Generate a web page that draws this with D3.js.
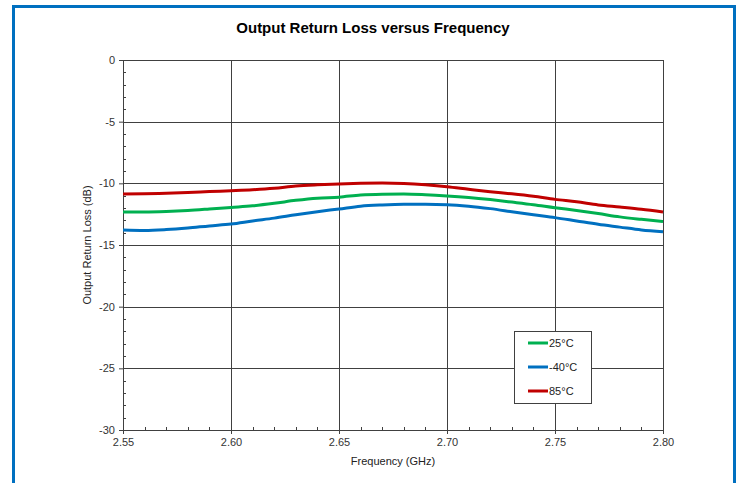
<!DOCTYPE html>
<html><head><meta charset="utf-8">
<script src="https://cdn.jsdelivr.net/npm/d3@7"></script>
<style>body{margin:0;background:#fff}svg{display:block}text{font-family:"Liberation Sans",Arial,sans-serif}</style>
</head><body><svg id="c" width="742" height="483"></svg>
<script>
const freqs = [2.55,2.56,2.57,2.58,2.59,2.60,2.61,2.62,2.63,2.64,2.65,2.66,2.67,2.68,2.69,2.70,2.71,2.72,2.73,2.74,2.75,2.76,2.77,2.78,2.79,2.80];
const s25 = [-12.32,-12.32,-12.28,-12.2,-12.08,-11.95,-11.82,-11.62,-11.38,-11.2,-11.12,-10.95,-10.88,-10.86,-10.92,-11.02,-11.15,-11.32,-11.52,-11.73,-11.98,-12.2,-12.45,-12.72,-12.92,-13.1];
const sM40 = [-13.78,-13.82,-13.75,-13.62,-13.45,-13.3,-13.05,-12.82,-12.55,-12.3,-12.08,-11.85,-11.75,-11.7,-11.7,-11.73,-11.85,-12.05,-12.3,-12.55,-12.78,-13.05,-13.32,-13.55,-13.78,-13.92];
const s85 = [-10.87,-10.85,-10.8,-10.75,-10.67,-10.6,-10.52,-10.4,-10.22,-10.12,-10.05,-10.0,-9.98,-10.02,-10.12,-10.27,-10.48,-10.68,-10.85,-11.05,-11.3,-11.5,-11.75,-11.92,-12.1,-12.32];
const seriesNames = ["25°C","-40°C","85°C"];
const seriesColors = ["#00B050","#0070C0","#C00000"];
const xTicks = [2.55,2.60,2.65,2.70,2.75,2.80];
const yTicks = [0,-5,-10,-15,-20,-25,-30];

const svg = d3.select("#c");
const L=123,R=663,T=60,B=430;
const x = d3.scaleLinear().domain([2.55,2.80]).range([L,R]);
const y = d3.scaleLinear().domain([-30,0]).range([B,T]);
const px = v => Math.round(v)+0.5;

// outer frame
svg.append("rect").attr("x",13.5).attr("y",6.5).attr("width",721).attr("height",490)
  .attr("fill","none").attr("stroke","#0070C0").attr("stroke-width",3);

// title
svg.append("text").attr("x",373).attr("y",33).attr("text-anchor","middle")
  .attr("font-size",15).attr("font-weight","bold").attr("fill","#000").text("Output Return Loss versus Frequency");

// gridlines
const g = svg.append("g");
xTicks.forEach(t=>{ if(t>2.55) g.append("line").attr("x1",px(x(t))).attr("x2",px(x(t))).attr("y1",T).attr("y2",B).attr("stroke","#404040").attr("stroke-width",1);});
yTicks.forEach(t=>{ if(t>-30) g.append("line").attr("y1",px(y(t))).attr("y2",px(y(t))).attr("x1",L).attr("x2",R).attr("stroke","#404040").attr("stroke-width",1);});

// minor ticks
const minorY = d3.range(-29,0,1).filter(v=>v%5!==0);
minorY.forEach(v=>svg.append("line").attr("x1",L).attr("x2",L+3).attr("y1",px(y(v))).attr("y2",px(y(v))).attr("stroke","#404040"));
const minorX = d3.range(1,25).filter(k=>k%5!==0).map(k=>2.55+k*0.01);
minorX.forEach(v=>svg.append("line").attr("y1",B).attr("y2",B-3).attr("x1",px(x(v))).attr("x2",px(x(v))).attr("stroke","#404040"));

// axes
const xAxis = d3.axisBottom(x).tickValues(xTicks).tickFormat(d3.format(".2f")).tickSizeInner(4).tickSizeOuter(0).tickPadding(4);
const yAxis = d3.axisLeft(y).tickValues(yTicks).tickFormat(d=>String(d)).tickSizeInner(4).tickSizeOuter(0).tickPadding(4);
const gx = svg.append("g").attr("transform",`translate(0,${px(B)-0.5})`).call(xAxis);
const gy = svg.append("g").attr("transform",`translate(${px(L)-0.5},0)`).call(yAxis);
[gx,gy].forEach(a=>{
  a.select(".domain").attr("stroke","#404040");
  a.selectAll(".tick line").attr("stroke","#404040");
  a.selectAll("text").attr("font-size",11).attr("fill","#333").attr("font-family","Liberation Sans, Arial, sans-serif");
});

// axis titles
svg.append("text").attr("x",393).attr("y",465).attr("text-anchor","middle").attr("font-size",11).attr("fill","#222").text("Frequency (GHz)");
svg.append("text").attr("transform","translate(91,245) rotate(-90)").attr("text-anchor","middle").attr("font-size",11).attr("fill","#222").text("Output Return Loss (dB)");

// series
const allSeries = [s25,sM40,s85];
const line = d3.line().x((d,i)=>x(freqs[i])).y(d=>y(d)).curve(d3.curveMonotoneX);
[s85,s25,sM40].forEach(s=>{
  const i = allSeries.indexOf(s);
  svg.append("path").attr("d",line(s)).attr("fill","none").attr("stroke",seriesColors[i]).attr("stroke-width",3).attr("stroke-linejoin","round");
});

// legend
const lg = svg.append("g");
lg.append("rect").attr("x",514.5).attr("y",331.5).attr("width",77).attr("height",72).attr("fill","#fff").attr("stroke","#404040");
seriesNames.forEach((n,i)=>{
  const yy = 343 + i*24;
  lg.append("line").attr("x1",528).attr("x2",548).attr("y1",yy).attr("y2",yy).attr("stroke",seriesColors[i]).attr("stroke-width",3);
  lg.append("text").attr("x",549).attr("y",yy+4).attr("font-size",11).attr("fill","#222").text(n);
});
</script></body></html>
